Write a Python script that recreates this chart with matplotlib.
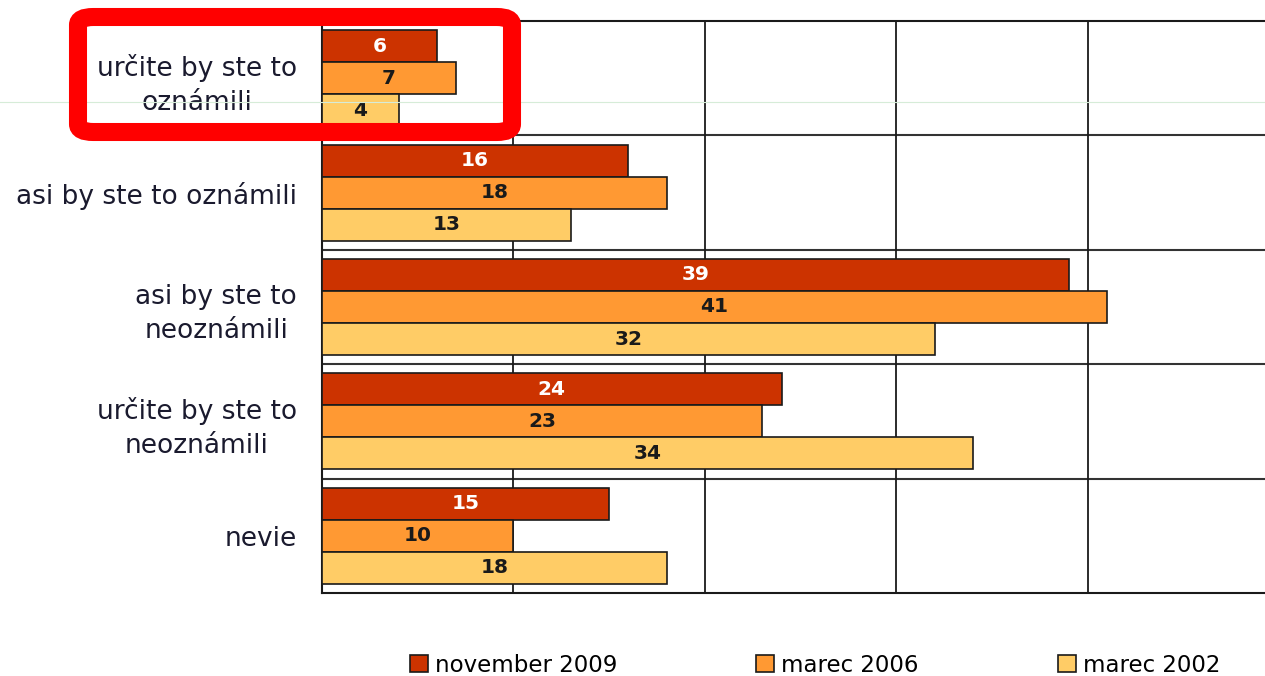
import matplotlib.pyplot as plt
from matplotlib.patches import FancyBboxPatch
from matplotlib.lines import Line2D
import numpy as np

categories = ['určite by ste to\noznámili', 'asi by ste to oznámili', 'asi by ste to\nneoznámili',
              'určite by ste to\nneoznámili', 'nevie']
series_names = ['november 2009', 'marec 2006', 'marec 2002']
nov_2009 = [6, 16, 39, 24, 15]
mar_2006 = [7, 18, 41, 23, 10]
mar_2002 = [4, 13, 32, 34, 18]

colors = ['#CC3300', '#FF9933', '#FFCC66']
text_colors = ['white', '#1a1a1a', '#1a1a1a']

fig = plt.figure(figsize=(12.65, 6.76), dpi=100)
ax = fig.add_axes([322 / 1265, 1 - 593 / 676, 1 - 322 / 1265, (593 - 21) / 676])

y = np.arange(len(categories))
h = 0.28
offsets = [-h, 0, h]
for vals, off, c, tc, name in zip([nov_2009, mar_2006, mar_2002], offsets, colors, text_colors, series_names):
    bars = ax.barh(y + off, vals, height=h, color=c, edgecolor='#1a1a1a', linewidth=1.2, label=name, zorder=3)
    for b, v in zip(bars, vals):
        ax.text(v / 2, b.get_y() + h / 2, str(v), ha='center', va='center', color=tc,
                fontsize=14.5, fontweight='bold', zorder=4)

ax.set_xlim(0, 49.25)
ax.set_ylim(len(categories) - 0.5, -0.5)
ax.set_xticks([10, 20, 30, 40])
ax.set_xticklabels([])
ax.grid(axis='x', color='#1a1a1a', linewidth=1.3, zorder=0)
for b in np.arange(0.5, len(categories) - 0.5, 1):
    ax.axhline(b, color='#333333', linewidth=1.5, zorder=1)
ax.tick_params(length=0, axis='both')
ax.set_yticks(y)
ax.set_yticklabels(categories, fontsize=19, color='#1a1a2e', multialignment='center', linespacing=1.4)
ax.tick_params(axis='y', pad=18)
for lbl in ax.get_yticklabels():
    lbl.set_y(lbl.get_position()[1])
for s in ['top', 'bottom', 'left']:
    ax.spines[s].set_color('#1a1a1a')
    ax.spines[s].set_linewidth(1.5)
ax.spines['right'].set_visible(False)

handles = [plt.Rectangle((0, 0), 1, 1, facecolor=c, edgecolor='#1a1a1a', linewidth=1.2) for c in colors]
fig.legend(handles, series_names, loc='center', bbox_to_anchor=(815 / 1265, 1 - 665 / 676), ncol=3,
           frameon=False, fontsize=16.5, columnspacing=6.05, handlelength=0.8, handleheight=0.8,
           handletextpad=0.3)

# faint horizontal guide line
fig.add_artist(Line2D([0, 1], [1 - 102 / 676] * 2, transform=fig.transFigure, color='#d6ecd8', linewidth=0.8))

# red highlight box
box = FancyBboxPatch((78 / 1265, 1 - 132 / 676), (512 - 78) / 1265, (132 - 17) / 676,
                     boxstyle='round,pad=0,rounding_size=0.012', transform=fig.transFigure,
                     facecolor='none', edgecolor='#FF0000', linewidth=13, zorder=10)
fig.add_artist(box)

fig.savefig('out.png', dpi=100)
